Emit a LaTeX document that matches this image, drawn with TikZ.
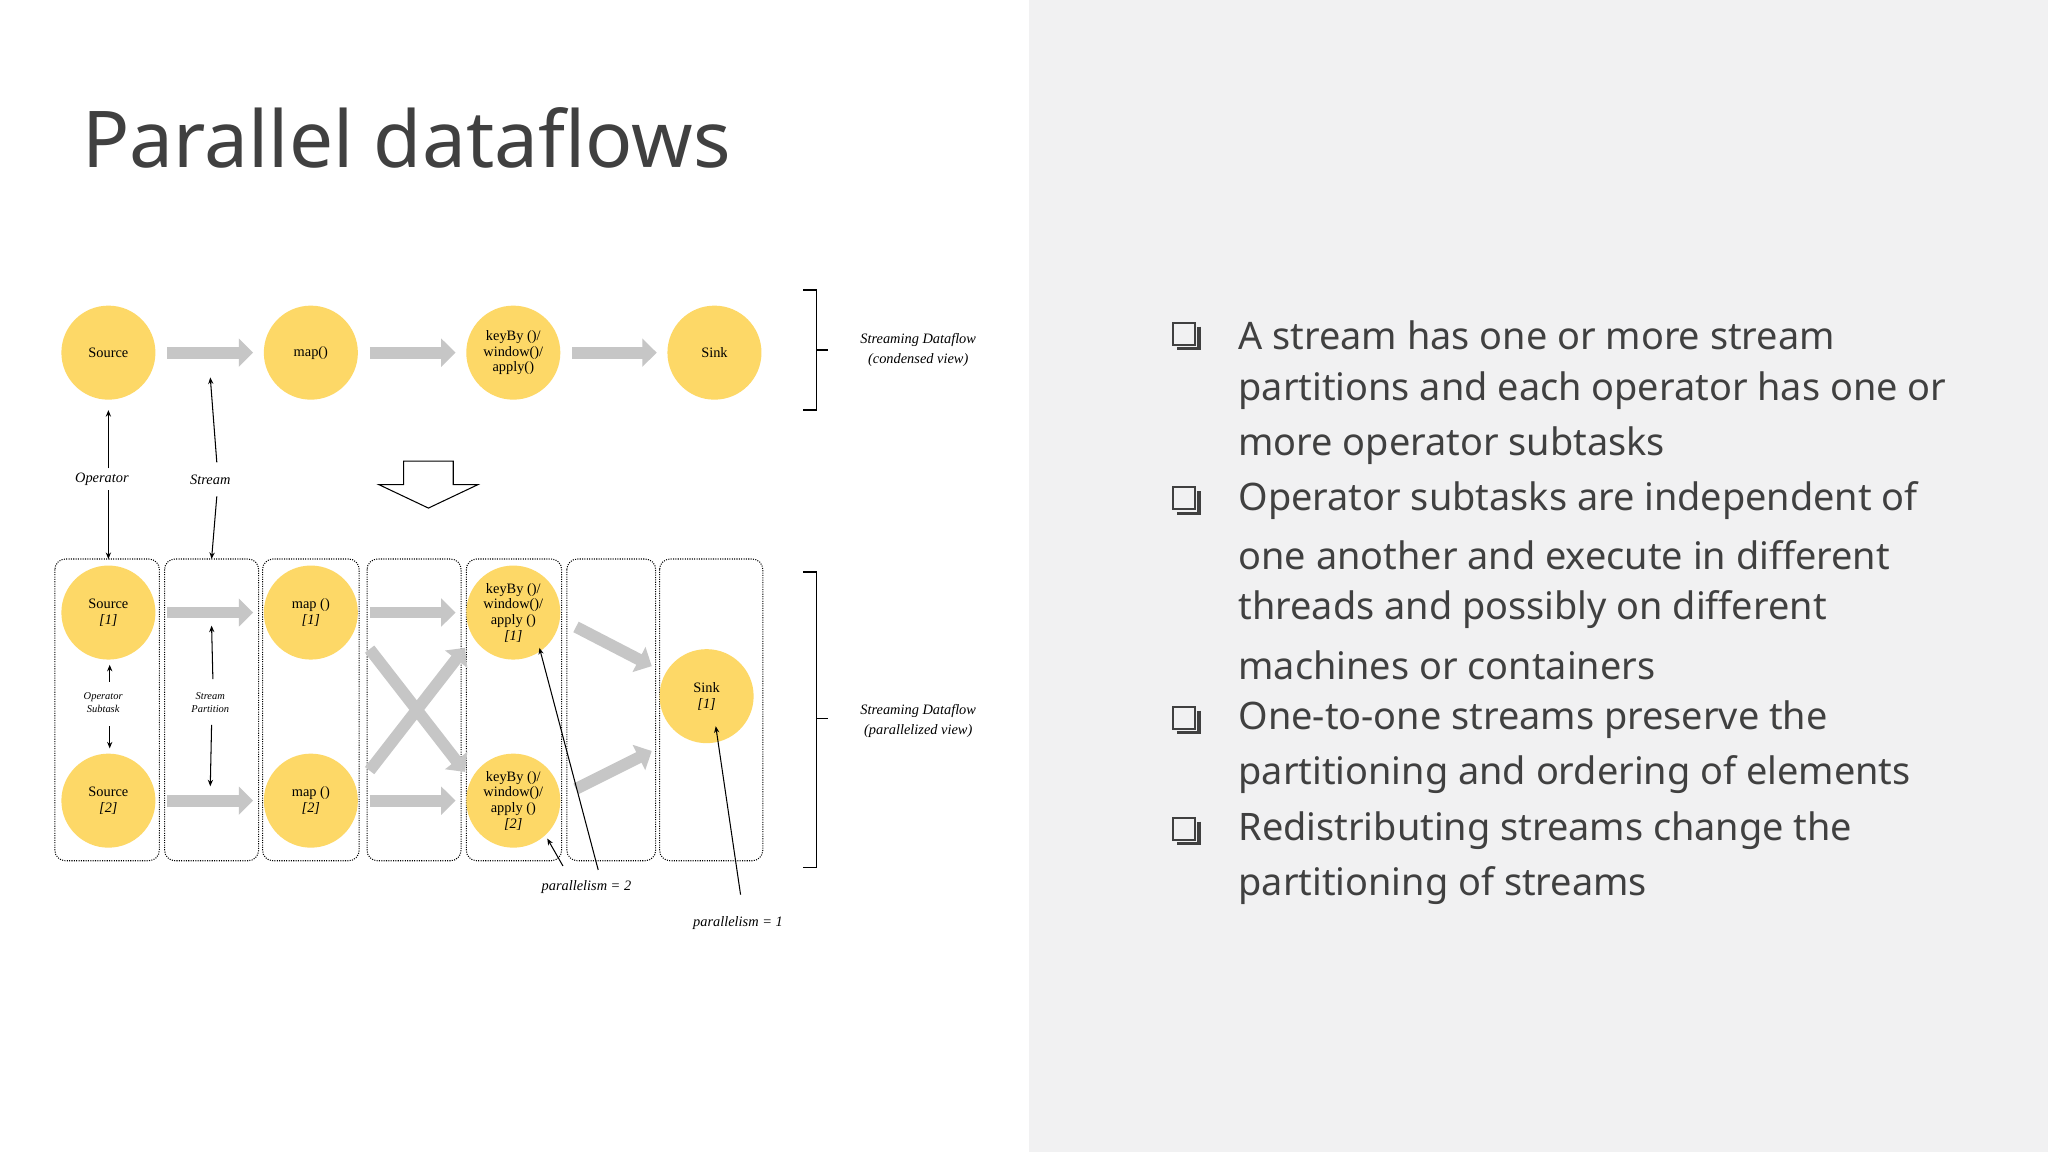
\documentclass[tikz,border=0pt]{standalone}
\usepackage{fontspec}
\setmainfont{Liberation Serif}
\newfontfamily\ui{Noto Sans}
\usetikzlibrary{arrows.meta}
\definecolor{yel}{HTML}{FDD867}
\definecolor{pan}{HTML}{F1F1F2}
\definecolor{txt}{HTML}{404040}
\definecolor{garr}{HTML}{C6C6C6}
\begin{document}
\begin{tikzpicture}[x=1pt,y=-1pt,
 op/.style={circle,fill=yel,minimum size=72pt,inner sep=0pt,font=\fontsize{11}{12}\selectfont,align=center},
 gar/.style={draw=garr,line width=9pt,-{Triangle[length=11pt,width=21pt]},shorten <=9pt,shorten >=8pt},
 bar/.style={-{Stealth[length=5pt,width=4pt]},line width=0.8pt},
 col/.style={draw,densely dotted,thick,rounded corners=8pt},
 lab/.style={font=\fontsize{11}{12}\selectfont\itshape},
 bl/.style={anchor=west,font=\ui\fontsize{29}{30}\selectfont,text=txt,inner sep=0pt}]
\useasboundingbox (0,0) rectangle (1568,882);
\fill[white] (0,0) rectangle (788,882);
\fill[pan] (788,0) rectangle (1568,882);
\node[anchor=base west,inner sep=0pt,font=\ui\bfseries\fontsize{60}{62}\selectfont,text=txt] (title) at (63,128) {Parallel dataflows};
% columns
\foreach \a/\b [count=\i] in {42/122,126/198,201/275,281/353,357/430,434/502,505/584}
  \draw[col] (\a,428) rectangle (\b,659);
% top row
\node[op] (s) at (83,270) {Source};
\node[op] (m) at (238,270) {map()};
\node[op] (k) at (393,270) {keyBy ()/\\window()/\\apply()};
\node[op] (z) at (547,270) {Sink};
\draw[gar] (s) -- (m); \draw[gar] (m) -- (k); \draw[gar] (k) -- (z);
% bottom
\node[op] (s1) at (83,469) {Source\\\textit{[1]}};
\node[op] (s2) at (83,613) {Source\\\textit{[2]}};
\node[op] (m1) at (238,469) {map ()\\\textit{[1]}};
\node[op] (m2) at (238,613) {map ()\\\textit{[2]}};
\node[op] (k1) at (393,469) {keyBy ()/\\window()/\\apply ()\\\textit{[1]}};
\node[op] (k2) at (393,613) {keyBy ()/\\window()/\\apply ()\\\textit{[2]}};
\node[op] (z1) at (541,533) {Sink\\\textit{[1]}};
\draw[gar] (s1) -- (m1); \draw[gar] (m1) -- (k1);
\draw[gar] (s2) -- (m2); \draw[gar] (m2) -- (k2);
\coordinate (c1) at (283,590); \coordinate (c2) at (356,496);
\coordinate (c3) at (283,497); \coordinate (c4) at (356,591);
\draw[gar,shorten <=0pt,shorten >=0pt] (c1) -- (c2);
\draw[gar,shorten <=0pt,shorten >=0pt] (c3) -- (c4);
\coordinate (d1) at (441,480); \coordinate (d2) at (499,510);
\coordinate (d3) at (441,604); \coordinate (d4) at (499,575);
\draw[gar,shorten <=0pt,shorten >=0pt] (d1) -- (d2);
\draw[gar,shorten <=0pt,shorten >=0pt] (d3) -- (d4);
% labels and black arrows
\node[lab] (opl) at (78,367) {Operator};
\node[lab] (stl) at (161,367) {Stream};
\coordinate (a1) at (83,314); \coordinate (a2) at (83,428);
\coordinate (b1) at (161,289); \coordinate (b2) at (162,428);
\draw[bar] (opl.north -| a1) -- (a1); \draw[bar] (opl.south -| a2) -- (a2);
\draw[bar] (166,354) -- (b1); \draw[bar] (166,380) -- (b2);
\node[font=\fontsize{8}{9.5}\selectfont\itshape,align=center] (osl) at (79,538) {Operator\\Subtask};
\node[font=\fontsize{8}{9.5}\selectfont\itshape,align=center] (spl) at (161,538) {Stream\\Partition};
\coordinate (e1) at (84,509); \coordinate (e2) at (84,573);
\draw[bar] (84,522) -- (e1); \draw[bar] (84,556) -- (e2);
\coordinate (f1) at (162,479); \coordinate (f2) at (161,602);
\draw[bar] (163,520) -- (f1); \draw[bar] (162,555) -- (f2);
\node[lab] (p2) at (449,679) {parallelism = 2};
\node[lab] (p1) at (565,707) {parallelism = 1};
\coordinate (g1) at (413,496); \coordinate (g2) at (419,642); \coordinate (g3) at (548,556);
\draw[bar] (458,666) -- (g1); \draw[bar] (431,663) -- (g2); \draw[bar] (567,685) -- (g3);
% big down arrow
\draw[line width=0.8pt,fill=white] (309,353) -- (347,353) -- (347,371) -- (366,371) -- (328,389) -- (290,371) -- (309,371) -- cycle;
% braces
\draw[line width=1pt] (615,222) -- (625,222) -- (625,314) -- (615,314) (625,268) -- (634,268);
\draw[line width=1pt] (615,438) -- (625,438) -- (625,664) -- (615,664) (625,550) -- (634,550);
\node[lab,align=center,font=\fontsize{11}{15}\selectfont\itshape] (cv) at (703,268) {Streaming Dataflow\\(condensed view)};
\node[lab,align=center,font=\fontsize{11}{15}\selectfont\itshape] (pv) at (703,552) {Streaming Dataflow\\(parallelized view)};
% bullets
\foreach \y in {257,383,551,636}{
  \draw[txt,line width=1.6pt] (898,\y-10) rectangle (915,\y+7);
  \draw[txt,line width=2.4pt] (918,\y-7) -- (918,\y+10) -- (901,\y+10);
}
\node[bl] (t1) at (948,257) {A stream has one or more stream};
\node[bl] (t2) at (948,299) {partitions and each operator has one or};
\node[bl] (t3) at (948,341) {more operator subtasks};
\node[bl] (t4) at (948,383) {Operator subtasks are independent of};
\node[bl] (t5) at (948,425) {one another and execute in different};
\node[bl] (t6) at (948,467) {threads and possibly on different};
\node[bl] (t7) at (948,509) {machines or containers};
\node[bl] (t8) at (948,551) {One-to-one streams preserve the};
\node[bl] (t9) at (948,593) {partitioning and ordering of elements};
\node[bl] (t10) at (948,636) {Redistributing streams change the};
\node[bl] (t11) at (948,678) {partitioning of streams};
\end{tikzpicture}
\end{document}
